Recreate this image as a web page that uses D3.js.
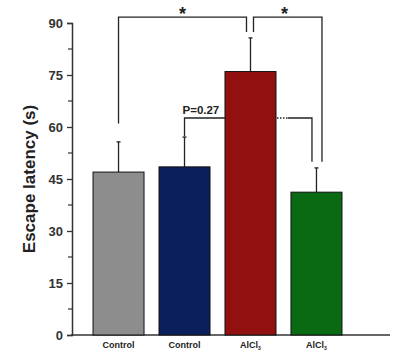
<!DOCTYPE html>
<html>
<head>
<meta charset="utf-8">
<script src="https://cdn.jsdelivr.net/npm/d3@7"></script>
<style>
  body { margin: 0; background: #fff; }
  svg { font-family: Arial, "Liberation Sans", sans-serif; }
</style>
</head>
<body>
<div id="chart"></div>
<script>
// values
var groups = ["Control", "Control", "AlCl", "AlCl"];
var subs = ["", "", "3", "3"];
var means = [47, 48.5, 76, 41.2];
var errs = [8.7, 8.6, 9.7, 7.0];
var colors = ["#8d8d8d", "#0b1f5c", "#931010", "#0a6a14"];
var yTicks = [0, 15, 30, 45, 60, 75, 90];
var yMinor = [7.5, 22.5, 37.5, 52.5, 67.5, 82.5];

var width = 393, height = 352;

var svg = d3.select("#chart").append("svg")
    .attr("width", width)
    .attr("height", height);

var y = d3.scaleLinear().domain([0, 90]).range([335, 23]);
var x = d3.scaleBand().domain(d3.range(groups.length))
    .range([85.5, 349.5])
    .paddingInner(0.227)
    .paddingOuter(0.114);

// y axis
var yAxis = svg.append("g")
    .attr("transform", "translate(72,0)")
    .call(d3.axisLeft(y).tickValues(yTicks).tickSize(5).tickPadding(4));
yAxis.select(".domain").attr("stroke", "#333").attr("stroke-width", 1.5);
yAxis.selectAll(".tick line").attr("stroke", "#333").attr("stroke-width", 1.3);
yAxis.selectAll(".tick text")
    .attr("font-size", 13).attr("font-weight", "bold").attr("fill", "#333");

svg.append("g").selectAll("line").data(yMinor).enter().append("line")
    .attr("x1", 68).attr("x2", 72)
    .attr("y1", function(d) { return y(d); })
    .attr("y2", function(d) { return y(d); })
    .attr("stroke", "#333").attr("stroke-width", 1.2);

// x axis line
svg.append("line")
    .attr("x1", 71).attr("x2", 390)
    .attr("y1", y(0)).attr("y2", y(0))
    .attr("stroke", "#333").attr("stroke-width", 1.5);

// y label
svg.append("text")
    .attr("transform", "translate(35," + y(45) + ") rotate(-90)")
    .attr("text-anchor", "middle")
    .attr("font-size", 17).attr("font-weight", "bold").attr("fill", "#222")
    .text("Escape latency (s)");

// error bars (upward only)
var eb = svg.append("g");
means.forEach(function(m, i) {
    var cx = x(i) + x.bandwidth() / 2;
    eb.append("line")
        .attr("x1", cx).attr("x2", cx)
        .attr("y1", y(m)).attr("y2", y(m + errs[i]))
        .attr("stroke", "#222").attr("stroke-width", 1.3);
    eb.append("line")
        .attr("x1", cx - 2).attr("x2", cx + 2)
        .attr("y1", y(m + errs[i])).attr("y2", y(m + errs[i]))
        .attr("stroke", "#222").attr("stroke-width", 1.3);
});

// bars
svg.append("g").selectAll("rect").data(means).enter().append("rect")
    .attr("x", function(d, i) { return x(i); })
    .attr("y", function(d) { return y(d); })
    .attr("width", x.bandwidth())
    .attr("height", function(d) { return y(0) - y(d); })
    .attr("fill", function(d, i) { return colors[i]; })
    .attr("stroke", "#111").attr("stroke-width", 1);

// x labels
var xl = svg.append("g").selectAll("text").data(groups).enter().append("text")
    .attr("x", function(d, i) { return x(i) + x.bandwidth() / 2; })
    .attr("y", 348)
    .attr("text-anchor", "middle")
    .attr("font-size", 9).attr("font-weight", "bold").attr("fill", "#222");
xl.append("tspan").text(function(d) { return d; });
xl.append("tspan")
    .attr("font-size", 5).attr("dy", 2)
    .text(function(d, i) { return subs[i]; });

// significance brackets
var cxs = means.map(function(m, i) { return x(i) + x.bandwidth() / 2; });
var br = svg.append("g").attr("fill", "none").attr("stroke", "#222").attr("stroke-width", 1.3);

// Control vs AlCl3 (*)
br.append("path").attr("d",
    "M" + cxs[0] + "," + y(61) +
    "V" + y(91.7) + "H" + (cxs[2] - 4) + "V" + y(87.4));
// AlCl3 vs AlCl3 treated (*)
br.append("path").attr("d",
    "M" + (cxs[2] + 3) + "," + y(87.4) +
    "V" + y(91.7) + "H" + (cxs[3] + 5.5) + "V" + y(50));
// P=0.27 bracket
br.append("path").attr("d",
    "M" + cxs[1] + "," + y(57.3) +
    "V" + y(62.6) + "H" + x(2));
br.append("path").attr("d",
    "M" + (x(2) + x.bandwidth() + 12) + "," + y(62.6) +
    "H" + (cxs[3] - 4.5) + "V" + y(50));
br.append("line")
    .attr("x1", x(2) + x.bandwidth() + 1).attr("x2", x(2) + x.bandwidth() + 12)
    .attr("y1", y(62.6)).attr("y2", y(62.6))
    .attr("stroke-dasharray", "1.5,1.5");

svg.append("text")
    .attr("x", cxs[1] - 2).attr("y", y(62.6) - 4)
    .attr("font-size", 11.5).attr("font-weight", "bold").attr("fill", "#222")
    .text("P=0.27");

// stars
[(cxs[0] + cxs[2]) / 2 - 2, (cxs[2] + cxs[3]) / 2 + 1].forEach(function(sx) {
    svg.append("text")
        .attr("x", sx).attr("y", 20)
        .attr("text-anchor", "middle")
        .attr("font-size", 18).attr("font-weight", "bold").attr("fill", "#222")
        .text("*");
});
</script>
</body>
</html>
